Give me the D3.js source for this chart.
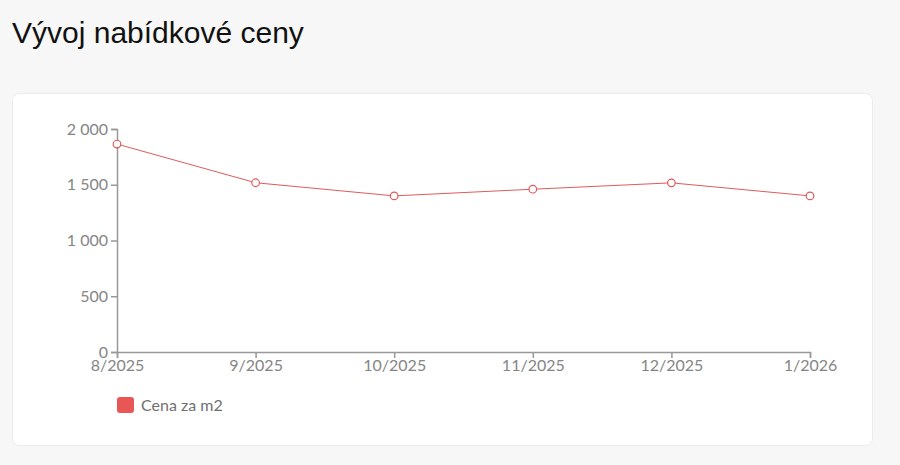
<!DOCTYPE html>
<html><head><meta charset="utf-8">
<script src="https://cdn.jsdelivr.net/npm/d3@7"></script>
<style>
html,body{margin:0;padding:0;background:#f7f7f7;}
svg{display:block;}
</style></head>
<body>
<svg id="c" width="900" height="465"></svg>
<script>
const categories = ["8/2025","9/2025","10/2025","11/2025","12/2025","1/2026"];
const values = [1865, 1518, 1400, 1460, 1517, 1400];
const yTicks = [0, 500, 1000, 1500, 2000];
const seriesName = "Cena za m2";
const title = "Vývoj nabídkové ceny";

const svg = d3.select("#c");
svg.append("text").attr("x", 12).attr("y", 43)
  .attr("font-family", "Liberation Sans, Arial, sans-serif").attr("font-size", 30)
  .attr("fill", "#111").text(title);
svg.append("rect").attr("x", 12.5).attr("y", 93.5).attr("width", 860).attr("height", 352)
  .attr("rx", 7).attr("fill", "#fff").attr("stroke", "#ececec");

const x = d3.scalePoint().domain(categories).range([117, 810]);
const y = d3.scaleLinear().domain([0, 2000]).range([352, 129]);
const loc = d3.formatLocale({decimal: ",", thousands: "\u00a0", grouping: [3], currency: ["", " Kč"]});
const fmt = loc.format(",d");

const font = "Lato, sans-serif";
const gx = svg.append("g").attr("transform", "translate(0,352)")
  .call(d3.axisBottom(x).tickSizeOuter(6));
const gy = svg.append("g").attr("transform", "translate(117,0)")
  .call(d3.axisLeft(y).tickValues(yTicks).tickFormat(fmt));
[gx, gy].forEach(g => {
  g.selectAll("path,line").attr("stroke", "#999").attr("stroke-width", 1.5);
  g.selectAll("text").attr("fill", "#858585").attr("font-family", font).attr("font-size", 16);
});
gx.selectAll("text").attr("dy", "0.71em").attr("y", 8);
gy.selectAll("text").attr("dy", "0.32em");

const color = "#e05a5a";
svg.append("path").datum(values)
  .attr("fill", "none").attr("stroke", color).attr("stroke-width", 1)
  .attr("d", d3.line().x((d, i) => x(categories[i])).y(d => y(d)));
svg.selectAll("circle.pt").data(values).enter().append("circle")
  .attr("class", "pt").attr("cx", (d, i) => x(categories[i])).attr("cy", d => y(d))
  .attr("r", 3.8).attr("fill", "#fff").attr("stroke", color).attr("stroke-width", 1.2);

svg.append("rect").attr("x", 117).attr("y", 397).attr("width", 17).attr("height", 16)
  .attr("rx", 3).attr("fill", "#e85656");
svg.append("text").attr("x", 141).attr("y", 411).attr("font-family", font)
  .attr("font-size", 16).attr("fill", "#707070").text(seriesName);
</script>
</body></html>
